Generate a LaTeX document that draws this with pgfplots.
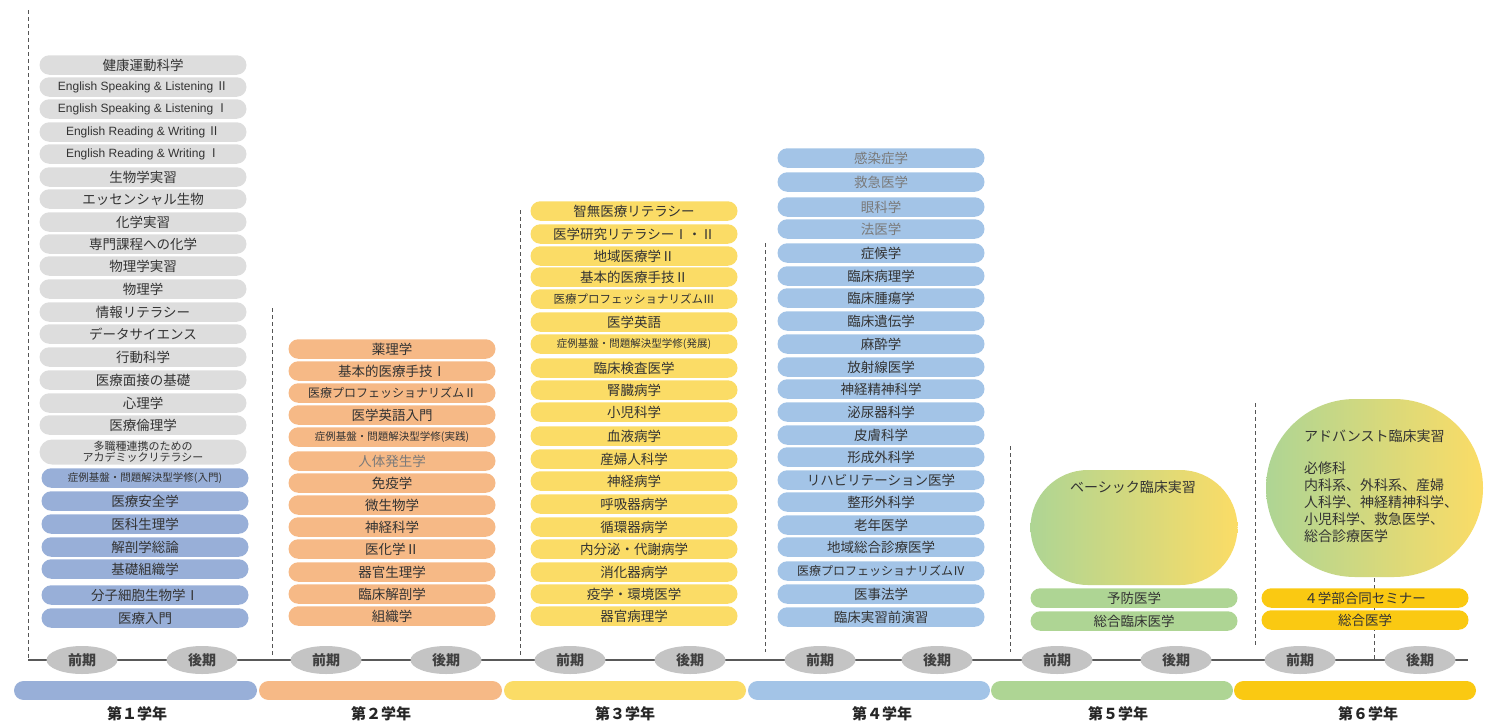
\documentclass[border=0pt]{standalone}
\usepackage{pgfplots}
\pgfplotsset{compat=1.18}
\usepackage{pgfplotstable}
\usepackage{fontspec}
\setmainfont{Noto Sans CJK JP}
\newfontfamily\arial{Liberation Sans}
\usetikzlibrary{shapes.misc,shapes.geometric}

\definecolor{cgray}{HTML}{DDDDDD}
\definecolor{cblue}{HTML}{98AFD8}
\definecolor{corange}{HTML}{F6B986}
\definecolor{cyellow}{HTML}{FBDC66}
\definecolor{csky}{HTML}{A3C4E7}
\definecolor{cgreen}{HTML}{AED594}
\definecolor{cgold}{HTML}{FAC912}
\definecolor{cell}{HTML}{C4C4C4}
\definecolor{txt}{HTML}{333333}
\definecolor{ltxt}{HTML}{7A7A7A}
\definecolor{cdash}{HTML}{555555}

\newcommand\fs[1]{\fontsize{#1}{#1}\selectfont}
\newcommand\gt{\color{ltxt}}
\newcommand\en[2]{{\fs{12}{\arial #1}\ #2}}
\newcommand\ak{\fs{11}多職種連携のための\\アカデミックリテラシー}
\newcommand\nix{\relax}
\newcommand\adv{アドバンスト臨床実習\\[15pt]必修科\\内科系、外科系、産婦\\人科学、神経精神科学、\\小児科学、救急医学、\\総合診療医学}

% year 1
\pgfplotstableread[col sep=comma]{
x,y,label
143,65,健康運動科学
143,87,{\en{English Speaking \& Listening}{Ⅱ}}
143,109,{\en{English Speaking \& Listening}{Ⅰ}}
143,132,{\en{English Reading \& Writing}{Ⅱ}}
143,154,{\en{English Reading \& Writing}{Ⅰ}}
143,177,生物学実習
143,199,エッセンシャル生物
143,222,化学実習
143,244,専門課程への化学
143,266,物理学実習
143,289,物理学
143,312,情報リテラシー
143,334,データサイエンス
143,357,行動科学
143,380,医療面接の基礎
143,403,心理学
143,425,医療倫理学
}\colAgray
\pgfplotstableread[col sep=comma]{
x,y,label
145,478,{\fs{10.5}症例基盤・問題解決型学修(入門)}
145,501,医療安全学
145,524,医科生理学
145,547,解剖学総論
145,569,基礎組織学
145,595,分子細胞生物学Ⅰ
145,618,医療入門
}\colAblue
% year 2
\pgfplotstableread[col sep=comma]{
x,y,label
392,349,薬理学
392,371,基本的医療手技Ⅰ
392,393,{\fs{12}医療プロフェッショナリズムⅡ}
392,415,医学英語入門
392,437,{\fs{10.5}症例基盤・問題解決型学修(実践)}
392,461,{\gt 人体発生学}
392,483,免疫学
392,505,微生物学
392,527,神経科学
392,549,医化学Ⅱ
392,572,器官生理学
392,594,臨床解剖学
392,616,組織学
}\colB
% year 3
\pgfplotstableread[col sep=comma]{
x,y,label
634,211,智無医療リテラシー
634,234,医学研究リテラシーⅠ・Ⅱ
634,256,地域医療学Ⅱ
634,277,基本的医療手技Ⅱ
634,299,{\fs{11.5}医療プロフェッショナリズムⅢ}
634,322,医学英語
634,344,{\fs{10.5}症例基盤・問題解決型学修(発展)}
634,368,臨床検査医学
634,390,腎臓病学
634,412,小児科学
634,436,血液病学
634,459,産婦人科学
634,481,神経病学
634,504,呼吸器病学
634,527,循環器病学
634,549,内分泌・代謝病学
634,572,消化器病学
634,594,疫学・環境医学
634,616,器官病理学
}\colC
% year 4
\pgfplotstableread[col sep=comma]{
x,y,label
881,158,{\gt 感染症学}
881,182,{\gt 救急医学}
881,207,{\gt 眼科学}
881,229,{\gt 法医学}
881,253,症候学
881,276,臨床病理学
881,298,臨床腫瘍学
881,321,臨床遺伝学
881,344,麻酔学
881,367,放射線医学
881,389,神経精神科学
881,412,泌尿器科学
881,435,皮膚科学
881,457,形成外科学
881,480,リハビリテーション医学
881,502,整形外科学
881,525,老年医学
881,547,地域総合診療医学
881,571,{\fs{12}医療プロフェッショナリズムⅣ}
881,594,医事法学
881,617,臨床実習前演習
}\colD
% year 5 and 6
\pgfplotstableread[col sep=comma]{
x,y,label
1134,598,予防医学
1134,621,総合臨床医学
}\colE
\pgfplotstableread[col sep=comma]{
x,y,label
1365,598,４学部合同セミナー
1365,620,総合医学
}\colF
% terms and years
\pgfplotstableread[col sep=comma]{
x,y,label
82,660,前期
202,660,後期
326,660,前期
446,660,後期
570,660,前期
690,660,後期
820,660,前期
937,660,後期
1057,660,前期
1176,660,後期
1300,660,前期
1420,660,後期
}\terms
\pgfplotstableread[col sep=comma]{
x,y,label
137,714,第１学年
381,714,第２学年
625,714,第３学年
882,714,第４学年
1118,714,第５学年
1368,714,第６学年
}\years

\pgfplotsset{
  pill/.style={draw=none, mark=none, nodes near coords, point meta=explicit symbolic,
    every node near coord/.append style={anchor=center, shape=rounded rectangle,
      fill=#1, minimum width=207pt, minimum height=19.5pt, inner sep=0pt,
      text=txt, align=center, font=\fs{13.5}}},
  dl/.style={color=cdash, line width=0.8pt, dash pattern=on 4pt off 3pt},
}

\begin{document}
\begin{tikzpicture}
\begin{axis}[
  scale only axis, width=1486pt, height=726pt,
  xmin=0, xmax=1486, ymin=0, ymax=726, y dir=reverse,
  hide axis, clip=false,
]
\addplot[draw=none] coordinates {(0,0) (1486,726)};
% dashed separators
\addplot[dl] coordinates {(28,10) (28,660)};
\addplot[dl] coordinates {(272,308) (272,656)};
\addplot[dl] coordinates {(520,210) (520,656)};
\addplot[dl] coordinates {(765,243) (765,652)};
\addplot[dl] coordinates {(1010,446) (1010,652)};
\addplot[dl] coordinates {(1255,403) (1255,646)};
\addplot[dl] coordinates {(1374,578) (1374,660)};

% year 1
\addplot[pill=cgray] table[x=x, y=y, meta=label] {\colAgray};
\addplot[draw=none, mark=none, nodes near coords, point meta=explicit symbolic,
  every node near coord/.append style={anchor=center, shape=rounded rectangle,
    fill=cgray, minimum width=207pt, minimum height=25pt, inner sep=0pt,
    text=txt, align=center, font=\fs{11}}]
  table[x=x, y=y, meta=label] {
x y label
143 452 \ak
};
\addplot[pill=cblue] table[x=x, y=y, meta=label] {\colAblue};
\addplot[pill=corange] table[x=x, y=y, meta=label] {\colB};
\addplot[pill=cyellow] table[x=x, y=y, meta=label] {\colC};
\addplot[pill=csky] table[x=x, y=y, meta=label] {\colD};

% year 5
\addplot[draw=none, mark=none, nodes near coords, point meta=explicit symbolic,
  every node near coord/.append style={anchor=center, shape=rounded rectangle,
    left color=cgreen, right color=cyellow, draw=none,
    minimum width=207pt, minimum height=115pt, inner sep=0pt}]
  table[x=x, y=y, meta=label] {
x y label
1134 527.5 \nix
};
\addplot[draw=none, mark=none, nodes near coords, point meta=explicit symbolic,
  every node near coord/.append style={anchor=center, text=txt, font=\fs{14}}]
  table[x=x, y=y, meta=label] {
x y label
1133 487 ベーシック臨床実習
};
\addplot[pill=cgreen] table[x=x, y=y, meta=label] {\colE};

% year 6
\addplot[draw=none, mark=none, nodes near coords, point meta=explicit symbolic,
  every node near coord/.append style={anchor=center, shape=rounded rectangle,
    left color=cgreen, right color=cyellow, draw=none,
    minimum width=217pt, minimum height=178pt, inner sep=0pt}]
  table[x=x, y=y, meta=label] {
x y label
1374.5 488 \nix
};
\addplot[draw=none, mark=none, nodes near coords, point meta=explicit symbolic,
  every node near coord/.append style={anchor=north west, text=txt, align=left,
    inner sep=0pt, font=\fontsize{14}{17}\selectfont}]
  table[x=x, y=y, meta=label] {
x y label
1304 430 \adv
};
\addplot[pill=cgold] table[x=x, y=y, meta=label] {\colF};

% timeline
\addplot[line width=2pt, black!65] coordinates {(28,660) (1468,660)};
\addplot[draw=none, mark=none, nodes near coords, point meta=explicit symbolic,
  every node near coord/.append style={anchor=center, shape=ellipse, fill=cell,
    minimum width=71pt, minimum height=28pt, inner sep=0pt, text=black!75,
    font=\bfseries\fs{14}}]
  table[x=x, y=y, meta=label] {\terms};

% year bars
\addplot[cblue, line width=19pt, line cap=round] coordinates {(23.5,690.5) (247.5,690.5)};
\addplot[corange, line width=19pt, line cap=round] coordinates {(268.5,690.5) (492.5,690.5)};
\addplot[cyellow, line width=19pt, line cap=round] coordinates {(513.5,690.5) (736.5,690.5)};
\addplot[csky, line width=19pt, line cap=round] coordinates {(757.5,690.5) (980.5,690.5)};
\addplot[cgreen, line width=19pt, line cap=round] coordinates {(1000.5,690.5) (1223.5,690.5)};
\addplot[cgold, line width=19pt, line cap=round] coordinates {(1243.5,690.5) (1466.5,690.5)};
\addplot[draw=none, mark=none, nodes near coords, point meta=explicit symbolic,
  every node near coord/.append style={anchor=center, text=black!85,
    font=\bfseries\fs{15}}]
  table[x=x, y=y, meta=label] {\years};
\end{axis}
\end{tikzpicture}
\end{document}
